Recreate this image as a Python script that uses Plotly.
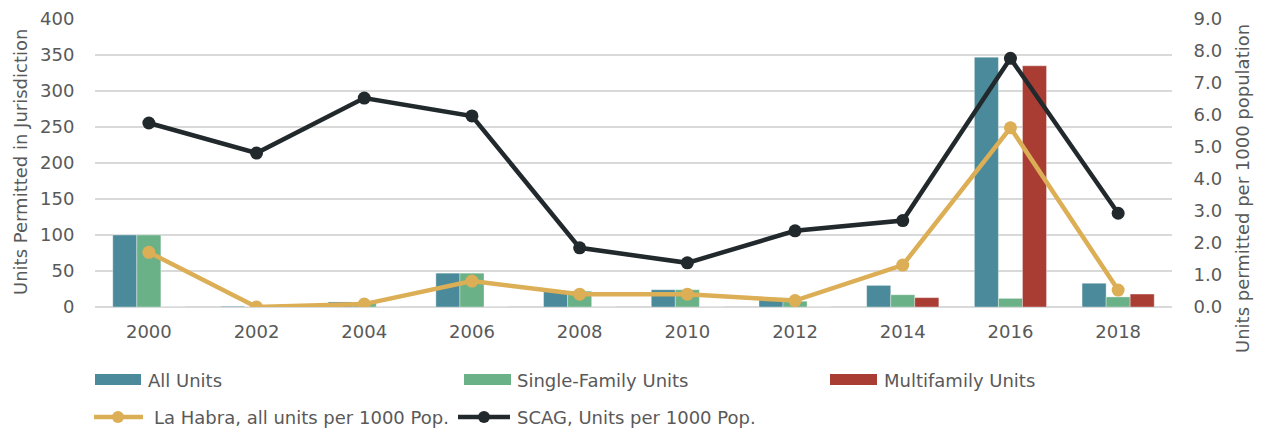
import plotly.graph_objects as go

years = ["2000", "2002", "2004", "2006", "2008", "2010", "2012", "2014", "2016", "2018"]
all_units = [100, 1, 7, 47, 22, 24, 10, 30, 347, 33]
single_family = [100, 0, 6, 47, 22, 24, 8, 17, 12, 14]
multifamily = [0, 0, 0, 0, 0, 0, 0, 13, 335, 18]
la_habra = [1.71, 0.0, 0.09, 0.81, 0.4, 0.4, 0.2, 1.31, 5.6, 0.53]
scag = [5.75, 4.81, 6.53, 5.97, 1.85, 1.38, 2.38, 2.7, 7.77, 2.93]

FONT = "DejaVu Sans"
GREY = "#595959"
C_ALL, C_SF, C_MF = "#4a8a9a", "#6bb187", "#a93d33"
C_LH, C_SCAG = "#dcae55", "#22292c"

W, H = 1262, 432
ML, MR, MT, MB = 95, 90, 19, 125
PW, PH = W - ML - MR, H - MT - MB


def px(x):
    return (x - ML) / PW


def py(y):
    return (H - MB - y) / PH


fig = go.Figure()
outline = dict(color="rgba(255,255,255,0.6)", width=0.6)
fig.add_trace(go.Bar(x=years, y=all_units, name="All Units", marker=dict(color=C_ALL, line=outline)))
fig.add_trace(go.Bar(x=years, y=single_family, name="Single-Family Units", marker=dict(color=C_SF, line=outline)))
fig.add_trace(go.Bar(x=years, y=multifamily, name="Multifamily Units", marker=dict(color=C_MF, line=outline)))
fig.add_trace(go.Scatter(x=years, y=la_habra, name="La Habra, all units per 1000 Pop.",
                         mode="lines+markers", yaxis="y2",
                         line=dict(color=C_LH, width=4.5),
                         marker=dict(color=C_LH, size=13)))
fig.add_trace(go.Scatter(x=years, y=scag, name="SCAG, Units per 1000 Pop.",
                         mode="lines+markers", yaxis="y2",
                         line=dict(color=C_SCAG, width=4.5),
                         marker=dict(color=C_SCAG, size=13)))

shapes = []
annotations = []

# custom legend
bar_items = [("All Units", C_ALL, 95, 141, 146),
             ("Single-Family Units", C_SF, 464, 511, 515),
             ("Multifamily Units", C_MF, 830, 877, 882)]
for name, col, x0, x1, xt in bar_items:
    shapes.append(dict(type="rect", xref="paper", yref="paper",
                       x0=px(x0), x1=px(x1), y0=py(385), y1=py(374),
                       fillcolor=col, line=dict(width=0)))
    annotations.append(dict(text=name, xref="paper", yref="paper", x=px(xt), y=py(380),
                            xanchor="left", yanchor="middle", showarrow=False,
                            font=dict(family=FONT, size=18, color=GREY)))
line_items = [("La Habra, all units per 1000 Pop.", C_LH, 94, 143, 118, 152),
              ("SCAG, Units per 1000 Pop.", C_SCAG, 458, 510, 484, 515)]
for name, col, x0, x1, xm, xt in line_items:
    shapes.append(dict(type="line", xref="paper", yref="paper",
                       x0=px(x0), x1=px(x1), y0=py(417), y1=py(417),
                       line=dict(color=col, width=4.5)))
    shapes.append(dict(type="circle", xref="paper", yref="paper",
                       x0=px(xm - 6), x1=px(xm + 6), y0=py(423), y1=py(411),
                       fillcolor=col, line=dict(width=0)))
    annotations.append(dict(text=name, xref="paper", yref="paper", x=px(xt), y=py(417),
                            xanchor="left", yanchor="middle", showarrow=False,
                            font=dict(family=FONT, size=18, color=GREY)))

# axis titles
annotations.append(dict(text="Units Permitted in Jurisdiction", xref="paper", yref="paper",
                        x=px(20), y=py(162), textangle=-90, showarrow=False,
                        xanchor="center", yanchor="middle",
                        font=dict(family=FONT, size=18, color=GREY)))
annotations.append(dict(text="Units permitted per 1000 population", xref="paper", yref="paper",
                        x=px(1242), y=py(189), textangle=-90, showarrow=False,
                        xanchor="center", yanchor="middle",
                        font=dict(family=FONT, size=18, color=GREY)))

fig.update_layout(
    width=W, height=H,
    margin=dict(l=ML, r=MR, t=MT, b=MB),
    paper_bgcolor="white", plot_bgcolor="white",
    font=dict(family=FONT, color=GREY, size=18),
    barmode="group", bargap=0.33, bargroupgap=0,
    showlegend=False,
    shapes=shapes, annotations=annotations,
    xaxis=dict(type="category", range=[-0.5, len(years) - 0.5], autorange=False,
               showgrid=False, showline=False, zeroline=False,
               ticks="outside", ticklen=8, tickcolor="rgba(0,0,0,0)", automargin=False,
               tickfont=dict(family=FONT, size=18, color=GREY)),
    yaxis=dict(range=[0, 400], dtick=50, showgrid=True, gridcolor="#d9d9d9", gridwidth=1.5,
               zeroline=True, zerolinecolor="#d9d9d9", zerolinewidth=1.5, showline=False,
               ticks="outside", ticklen=16, tickcolor="rgba(0,0,0,0)", automargin=False,
               tickfont=dict(family=FONT, size=18, color=GREY)),
    yaxis2=dict(range=[0, 9], dtick=1, tickformat=".1f", overlaying="y", side="right",
                showgrid=False, zeroline=False, showline=False,
                ticks="outside", ticklen=17, tickcolor="rgba(0,0,0,0)", automargin=False,
                tickfont=dict(family=FONT, size=18, color=GREY)),
)

fig.write_html("out.html", config={"displayModeBar": False},
               post_script="document.body.style.margin='0';document.body.style.overflow='hidden';")
